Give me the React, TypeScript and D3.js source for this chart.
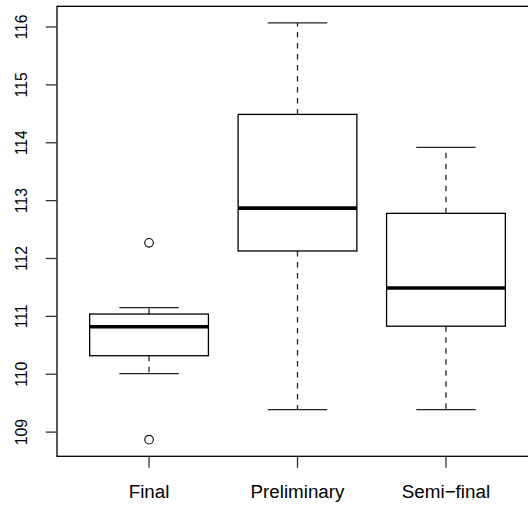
import React from 'react';
import * as d3 from 'd3';

// Values
const categories = ['Final', 'Preliminary', 'Semi\u2212final'];
const lowerWhiskers = [110.01, 109.39, 109.39];
const lowerQuartiles = [110.32, 112.13, 110.83];
const medians = [110.82, 112.87, 111.49];
const upperQuartiles = [111.04, 114.49, 112.78];
const upperWhiskers = [111.15, 116.07, 113.92];
const outliers: number[][] = [[112.27, 108.87], [], []];
const yTicks = [109, 110, 111, 112, 113, 114, 115, 116];

const W = 528;
const H = 507;
const margin = { top: 6.3, left: 57, bottom: 50.7 };
const plotRight = 538; // frame runs past the right edge of the picture

const App: React.FC = () => {
  const all = [...lowerWhiskers, ...upperWhiskers, ...outliers.flat()];
  const lo = d3.min(all)!;
  const hi = d3.max(all)!;
  const pad = (hi - lo) * 0.04;

  const y = d3.scaleLinear()
    .domain([lo - pad, hi + pad])
    .range([H - margin.bottom, margin.top]);

  const n = categories.length;
  const xpad = n * 0.04;
  const x = d3.scaleLinear()
    .domain([0.5 - xpad, n + 0.5 + xpad])
    .range([margin.left, plotRight]);

  const boxHalf = x(1.4) - x(1);
  const capHalf = x(1.2) - x(1);
  const bottom = y.range()[0];
  const top = y.range()[1];
  const sw = 1.3;

  return (
    <svg
      width={W}
      height={H}
      style={{ position: 'absolute', left: 0, top: 0, background: '#fff' }}
      fontFamily="'Liberation Sans', Arial, Helvetica, sans-serif"
    >
      {categories.map((c, i) => {
        const cx = x(i + 1);
        return (
          <g key={c}>
            {/* whiskers */}
            <line x1={cx} x2={cx} y1={y(upperQuartiles[i])} y2={y(upperWhiskers[i])}
              stroke="#222" strokeWidth={sw} strokeDasharray="5.5,5.5" />
            <line x1={cx} x2={cx} y1={y(lowerQuartiles[i])} y2={y(lowerWhiskers[i])}
              stroke="#222" strokeWidth={sw} strokeDasharray="5.5,5.5" />
            {/* staples */}
            <line x1={cx - capHalf} x2={cx + capHalf} y1={y(upperWhiskers[i])} y2={y(upperWhiskers[i])}
              stroke="#222" strokeWidth={sw} />
            <line x1={cx - capHalf} x2={cx + capHalf} y1={y(lowerWhiskers[i])} y2={y(lowerWhiskers[i])}
              stroke="#222" strokeWidth={sw} />
            {/* box */}
            <rect x={cx - boxHalf} width={boxHalf * 2}
              y={y(upperQuartiles[i])} height={y(lowerQuartiles[i]) - y(upperQuartiles[i])}
              fill="#fff" stroke="#000" strokeWidth={sw} />
            {/* median */}
            <line x1={cx - boxHalf} x2={cx + boxHalf} y1={y(medians[i])} y2={y(medians[i])}
              stroke="#000" strokeWidth={3.6} />
            {outliers[i].map((v, j) => (
              <circle key={j} cx={cx} cy={y(v)} r={4.3} fill="none" stroke="#000" strokeWidth={1.1} />
            ))}
          </g>
        );
      })}

      {/* frame */}
      <rect x={margin.left} y={top} width={plotRight - margin.left} height={bottom - top}
        fill="none" stroke="#000" strokeWidth={sw} />

      {/* y axis */}
      {yTicks.map(t => (
        <g key={t}>
          <line x1={margin.left - 11.3} x2={margin.left} y1={y(t)} y2={y(t)} stroke="#333" strokeWidth={sw} />
          <text transform={`translate(27.3,${y(t)}) rotate(-90)`} textAnchor="middle"
            fontSize={15.8} fill="#000">{t}</text>
        </g>
      ))}

      {/* x axis */}
      {categories.map((c, i) => (
        <g key={c}>
          <line x1={x(i + 1)} x2={x(i + 1)} y1={bottom} y2={bottom + 11.5} stroke="#333" strokeWidth={sw} />
          <text x={x(i + 1)} y={497.5} textAnchor="middle" fontSize={18.8} fill="#000">{c}</text>
        </g>
      ))}
    </svg>
  );
};

export default App;
